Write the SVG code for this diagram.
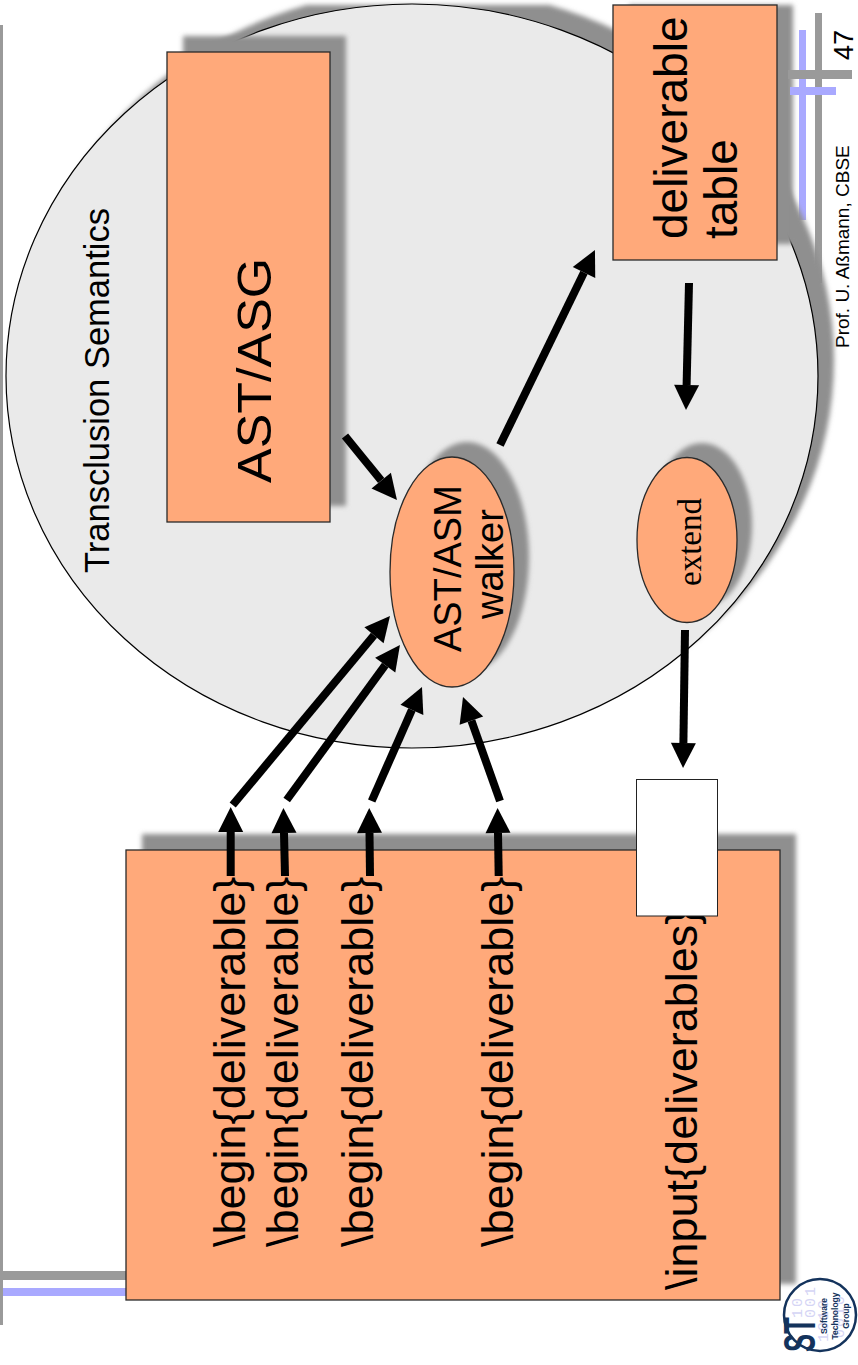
<svg xmlns="http://www.w3.org/2000/svg" width="858" height="1365" viewBox="0 0 858 1365">
<style>
.n{fill:#ffa97a;stroke:#2a2a2a;stroke-width:1.3}
.sh{fill:#8f8f8f;filter:url(#blur)}
.a{stroke:#000;stroke-width:8;fill:none;marker-end:url(#head)}
.t{font-family:"Liberation Sans",Arial,sans-serif;fill:#000}
.b{fill:#9a9a9a}
.bl{fill:#a9a9ff}
</style>
<defs>
<filter id="blur" x="-10%" y="-10%" width="120%" height="120%"><feGaussianBlur stdDeviation="2.5"/></filter>
<clipPath id="page"><rect x="0" y="5" width="858" height="1360"/></clipPath>
<marker id="head" markerUnits="userSpaceOnUse" markerWidth="28" markerHeight="28" refX="0" refY="13" orient="auto" overflow="visible"><path d="M0,0.5 L25,13 L0,25.500 z" fill="#000"/></marker>
</defs>
<rect width="858" height="1365" fill="#fff"/>
<g id="frame">
<rect class="b" x="0" y="25" width="3" height="1300"/>
<rect class="b" x="3" y="1271" width="124" height="9"/>
<rect class="bl" x="3" y="1288" width="124" height="8"/>
<rect class="bl" x="799" y="30" width="7" height="190"/>
<rect class="b" x="815" y="13" width="7" height="270"/>
<text class="t" transform="translate(849,348) rotate(-90)" font-size="19">Prof. U. Aßmann, CBSE</text>
<text class="t" transform="translate(853,60) rotate(-90)" font-size="27">47</text>
</g>
<g id="semantics">
<g class="sh"><ellipse clip-path="url(#page)" cx="428" cy="360" rx="406" ry="372"/></g>
<ellipse cx="412" cy="376" rx="406" ry="372" fill="#eaeaea" stroke="#000" stroke-width="1.2"/>
<text class="t" transform="translate(109,573) rotate(-90)" font-size="34.500">Transclusion Semantics</text>
</g>
<g id="ast">
<rect class="sh" x="183" y="36" width="163" height="470"/>
<rect class="n" x="167" y="52" width="163" height="470"/>
<text class="t" transform="translate(271,483) rotate(-90) scale(1.083,1)" font-size="48">AST/ASG</text>
</g>
<g id="table">
<g class="sh"><rect clip-path="url(#page)" x="629" y="-11" width="164" height="255"/></g>
<rect class="n" x="613" y="5" width="164" height="255"/>
<text class="t" transform="translate(687,239) rotate(-90)" font-size="46">deliverable</text>
<text class="t" transform="translate(737,239) rotate(-90)" font-size="46">table</text>
</g>
<g id="frame-bars">
<rect class="b" x="788" y="70" width="64" height="9"/>
<rect class="bl" x="790" y="87" width="46" height="8"/>
</g>
<g id="walker">
<ellipse class="sh" cx="467" cy="557" rx="62" ry="115"/>
<ellipse class="n" cx="452" cy="572" rx="62" ry="115" stroke-width="1"/>
<text class="t" transform="translate(461,652) rotate(-90)" font-size="38">AST/ASM</text>
<text class="t" transform="translate(503,619) rotate(-90)" font-size="38">walker</text>
</g>
<g id="extend">
<ellipse class="sh" cx="702" cy="525" rx="50" ry="82"/>
<ellipse class="n" cx="687" cy="540" rx="50" ry="82.500" stroke-width="1"/>
<text transform="translate(701,586) rotate(-90)" font-family="Liberation Serif,serif" font-size="33">extend</text>
</g>
<g id="source">
<rect class="sh" x="142" y="834" width="654" height="450"/>
<rect class="n" x="126" y="850" width="654" height="450"/>
<text class="t" transform="translate(245,1247) rotate(-90)" font-size="45">\begin{deliverable}</text>
<text class="t" transform="translate(298.300,1247) rotate(-90)" font-size="45">\begin{deliverable}</text>
<text class="t" transform="translate(373.300,1247) rotate(-90)" font-size="45">\begin{deliverable}</text>
<text class="t" transform="translate(512.700,1247) rotate(-90)" font-size="45">\begin{deliverable}</text>
<text class="t" transform="translate(697,1290) rotate(-90)" font-size="45">\input{deliverables}</text>
</g>
<g id="slot">
<rect x="636.500" y="779.500" width="81" height="136.500" fill="#fff" stroke="#222" stroke-width="1"/>
</g>
<g id="connectors">
<path class="a" d="M232.700,805 L374,635.200"/>
<path class="a" d="M286.700,800 L385.200,665.200"/>
<path class="a" d="M371.700,801 L411.900,709.900"/>
<path class="a" d="M500,801 L471.400,720.600"/>
<path class="a" d="M230.700,876 L230.700,832"/>
<path class="a" d="M285,876 L284,833"/>
<path class="a" d="M370,876 L369.500,833"/>
<path class="a" d="M498.700,876 L498,833"/>
<path class="a" d="M345,436 L381.200,480.600"/>
<path class="a" d="M500,445 L584,272.500"/>
<path class="a" d="M689,283 L686.600,385"/>
<path class="a" d="M685,630 L683.400,743"/>
</g>
<g id="logo">
<circle cx="820" cy="1315" r="36" fill="#fff" stroke="#14335c" stroke-width="2.500"/>
<g font-family="Liberation Mono,monospace" fill="#d5d5f5" font-size="15" letter-spacing="2">
<text transform="translate(802,1318) rotate(-90)">10</text>
<text transform="translate(815,1318) rotate(-90)">001</text>
<text transform="translate(828,1342) rotate(-90)">1010</text>
<text transform="translate(844,1338) rotate(-90)">0010</text>
</g>
<g font-family="Liberation Sans,sans-serif" font-weight="bold" fill="#14335c" font-size="8.500" text-anchor="middle">
<text transform="translate(827,1316) rotate(-90)">Software</text>
<text transform="translate(838,1316) rotate(-90)">Technology</text>
<text transform="translate(849,1316) rotate(-90)">Group</text>
</g>
<text transform="translate(815,1352) rotate(-90) scale(0.62,1)" font-family="Liberation Sans,sans-serif" font-weight="bold" fill="#14335c" font-size="44">ST</text>
</g>
</svg>
